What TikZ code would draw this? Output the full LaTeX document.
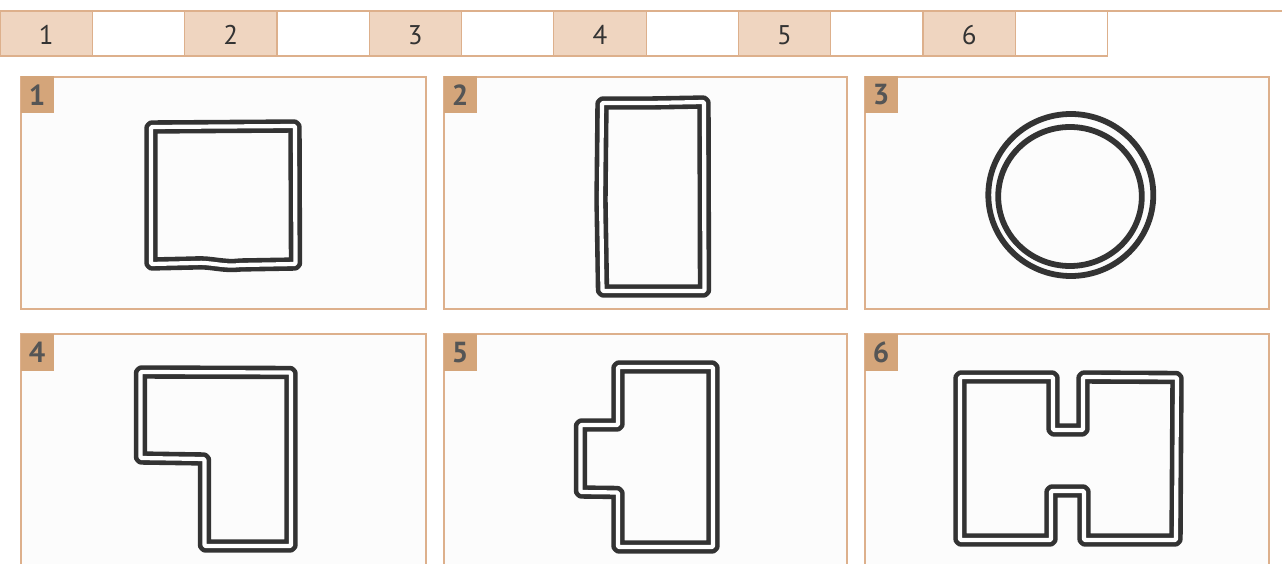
\documentclass[tikz,border=0pt]{standalone}
\usepackage{fontspec}
\setmainfont{PT Sans}
\definecolor{peach}{HTML}{EFD5C0}
\definecolor{tanline}{HTML}{DDB08C}
\definecolor{badge}{HTML}{D4A57A}
\definecolor{ink}{HTML}{333333}
\definecolor{badgetext}{HTML}{555555}
\definecolor{paper}{HTML}{FCFCFC}
\tikzset{
  cellbox/.style={draw=tanline, line width=1.2pt},
  celltxt/.style={font=\fontsize{27}{27}\selectfont, text=ink, anchor=center},
  panelbox/.style={draw=tanline, line width=1.3pt, fill=paper},
  badgebox/.style={fill=badge, minimum width=33pt, minimum height=37pt, inner sep=0pt, anchor=north west,
     font=\bfseries\fontsize{29}{29}\selectfont, text=badgetext},
  plan/.style={draw=ink, line width=4.6pt, double=white, double distance=4.2pt, line join=round, rounded corners=1pt},
  ring/.style={draw=ink, line width=5.8pt}
}
\begin{document}
\begin{tikzpicture}[x=1pt,y=-1pt]
\clip (0,0) rectangle (1282,564);
\fill[white] (0,0) rectangle (1282,564);
% table
\foreach \i in {0,...,5}{
  \fill[peach] ({\i*184.6},11) rectangle ({\i*184.6+92.3},56);
  \draw[cellbox] ({\i*184.6},11) rectangle ({\i*184.6+92.3},56);
  \draw[cellbox] ({\i*184.6+92.3},11) rectangle ({\i*184.6+184.6},56);
}
\draw[cellbox] (0,11) -- (1282,11);
\foreach \i [evaluate=\i as \n using int(\i+1)] in {0,...,5}{
  \node[celltxt] (t\n) at ({\i*184.6+46.15},35) {\n};
}
% panels
\draw[panelbox] (21,77) rectangle (426,309);
\draw[panelbox] (444,77) rectangle (847,309);
\draw[panelbox] (865,77) rectangle (1269,309);
\draw[panelbox] (21,334) rectangle (426,600);
\draw[panelbox] (444,334) rectangle (847,600);
\draw[panelbox] (865,334) rectangle (1269,600);
\node[badgebox] (b1) at (20.5,76) {1};
\node[badgebox] (b2) at (443.5,76) {2};
\node[badgebox] (b3) at (864.5,76) {3};
\node[badgebox] (b4) at (20.5,333.5) {4};
\node[badgebox] (b5) at (443.5,333.5) {5};
\node[badgebox] (b6) at (864.5,333.5) {6};
% shape 1: square
\draw[plan] (151,127) -- (295,126) -- (295.5,264) -- (240,265) .. controls (225,267) and (210,262) .. (195,263) -- (151,264) -- cycle;
% shape 2: tall rectangle
\draw[plan] (602,103) -- (650,103) -- (704,102) -- (704.5,291) -- (602.5,291) -- (601,200) -- cycle;
% shape 3: circle
\draw[ring] (1070.8,195) ellipse [x radius=82.5, y radius=81];
\draw[ring] (1070,196.5) ellipse [x radius=71.8, y radius=69.5];
% shape 4: L shape
\draw[plan] (140.5,372) -- (291,372.5) -- (291,546) -- (204.5,546) -- (204.5,459) -- (140.5,458) -- cycle;
% shape 5: T shape with tab
\draw[plan] (618,367) -- (713,367) -- (713,547) -- (618,547) -- (618,492.5) -- (580.5,492) -- (580.5,425) -- (618,425) -- cycle;
% shape 6: H shape
\draw[plan] (960,377) -- (1053,377) -- (1053,430) -- (1083,430) -- (1083,377) -- (1177,377.5) -- (1176,540) -- (1084,540) -- (1084,491) -- (1051,491) -- (1051,540) -- (960,540) -- cycle;
\end{tikzpicture}
\end{document}
